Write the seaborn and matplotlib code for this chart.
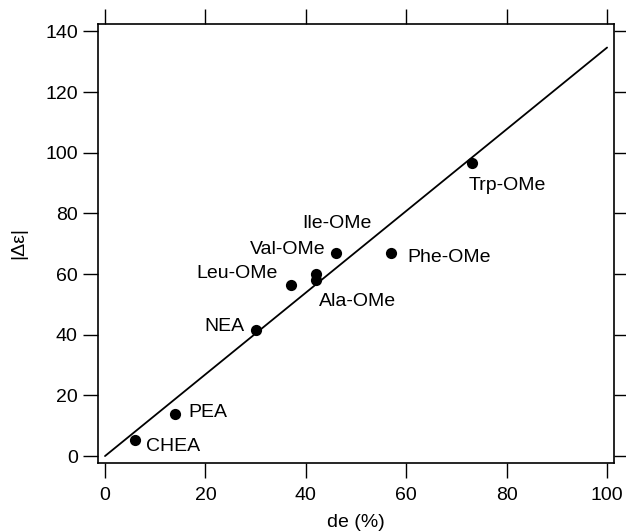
import pandas as pd
import matplotlib
matplotlib.use("Agg")
import matplotlib.pyplot as plt
import seaborn as sns

# dati
compounds = ["CHEA", "PEA", "NEA", "Leu-OMe", "Val-OMe", "Ala-OMe",
             "Ile-OMe", "Phe-OMe", "Trp-OMe"]
de_pct = [6, 14, 30, 37, 42, 42, 46, 57, 73]
delta_eps = [5.3, 13.9, 41.5, 56.5, 60.0, 58.0, 67.0, 67.0, 96.7]

# retta di regressione (passa per l'origine)
fit_x = [0, 100]
fit_y = [0, 134.7]

# posizione delle etichette (offset in pixel, allineamento)
label_pos = {
    "CHEA":    ((11, -7), "left"),
    "PEA":     ((13, 1), "left"),
    "NEA":     ((-11, 4), "right"),
    "Leu-OMe": ((-13, 11), "right"),
    "Val-OMe": ((10, 25), "right"),
    "Ala-OMe": ((3, -21), "left"),
    "Ile-OMe": ((1, 29), "center"),
    "Phe-OMe": ((16, -5), "left"),
    "Trp-OMe": ((-3, -23), "left"),
}

sns.set_style("ticks")
plt.rcParams["font.family"] = ["Liberation Sans", "DejaVu Sans"]
plt.rcParams["text.color"] = "black"
plt.rcParams["axes.labelcolor"] = "black"

df = pd.DataFrame({"name": compounds, "de": de_pct, "deps": delta_eps})
fit = pd.DataFrame({"x": fit_x, "y": fit_y})

fig = plt.figure(figsize=(6.26, 5.31), dpi=100)
ax = fig.add_axes([0.1565, 0.128, 0.8245, 0.827])

sns.lineplot(data=fit, x="x", y="y", ax=ax, color="black", linewidth=1.3)
sns.scatterplot(data=df, x="de", y="deps", ax=ax, color="black", s=65,
                edgecolor="black", linewidth=0, zorder=3)

for _, r in df.iterrows():
    off, ha = label_pos[r["name"]]
    ax.annotate(r["name"], (r["de"], r["deps"]), xytext=off,
                textcoords="offset pixels", ha=ha, va="center",
                fontsize=14, color="black")

ax.set_xlim(-1.4, 101.4)
ax.set_ylim(-2.3, 142.5)
ax.set_xticks([0, 20, 40, 60, 80, 100])
ax.set_yticks([0, 20, 40, 60, 80, 100, 120, 140])
ax.tick_params(direction="out", length=10.5, width=1, labelsize=14,
               top=True, right=True, labeltop=False, labelright=False,
               colors="black", pad=4)
ax.tick_params(axis="x", pad=7)
for sp in ax.spines.values():
    sp.set_visible(True)
    sp.set_linewidth(1.2)
    sp.set_color("black")

ax.set_xlabel("de (%)", fontsize=14, labelpad=7)
ax.set_ylabel("|Δε|", fontsize=14, labelpad=13)

fig.savefig("out.png", dpi=100)
